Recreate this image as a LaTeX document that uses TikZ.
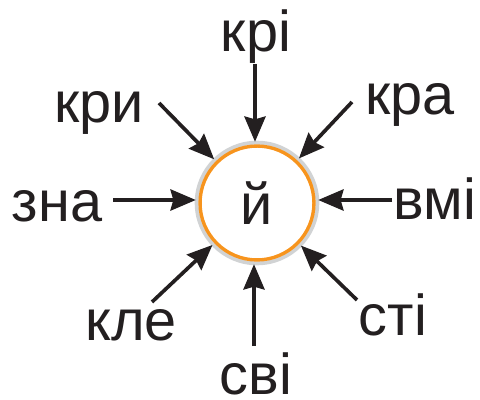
\documentclass[tikz,border=0pt]{standalone}
\usepackage{fontspec}
\setmainfont{Liberation Sans}
\usetikzlibrary{arrows.meta}
\definecolor{ink}{HTML}{231F20}
\definecolor{ringorange}{HTML}{F7941D}
\definecolor{ringgray}{HTML}{D1D3D4}
\tikzset{
  word/.style={font=\fontsize{41}{48}\selectfont, text=ink, anchor=base, inner sep=0pt},
  ring/.style={circle, draw=ringorange, line width=2.4pt, minimum size=81pt, inner sep=0pt, outer sep=3pt, font=\fontsize{41}{48}\selectfont, text=ink},
  halo/.style={draw=ringgray, line width=2.8pt},
  arr/.style={draw=ink, line width=2.6pt, -{Stealth[length=18pt,width=15pt,inset=2pt]}}
}
\begin{document}
\begin{tikzpicture}[x=0.025cm,y=-0.025cm]
        \useasboundingbox (0,0) rectangle (480,400);
        \coordinate (O) at (257,203);
        \draw[halo] (O) circle[radius=42.9pt];
        \node[ring] (c) at (O) {\raisebox{-0.2ex}{й}};
        % words
        \node[word] (kri) at (256,52) {крі};
        \node[word] (kry) at (99,123) {кри};
        \node[word] (kra) at (410,115) {кра};
        \node[word] (zna) at (57,222) {зна};
        \node[word] (vmi) at (435,220) {вмі};
        \node[word] (kle) at (131,340) {кле};
        \node[word] (sti) at (393,335) {сті};
        \node[word,text depth=0pt] (svi) at (256,394) {сві};
        % arrow starts
        \coordinate (A) at (255,64);
        \coordinate (B) at (159,103);
        \coordinate (C) at (352,102);
        \coordinate (D) at (113,200);
        \coordinate (E) at (392,200);
        \coordinate (F) at (152,302);
        \coordinate (G) at (254,346);
        \coordinate (H) at (357,300);
        \draw[arr] (A) -- (A |- c.north);
        \draw[arr] (B) -- (c);
        \draw[arr] (C) -- (c);
        \draw[arr] (D) -- (D -| c.west);
        \draw[arr] (E) -- (E -| c.east);
        \draw[arr] (F) -- (c);
        \draw[arr] (G) -- (G |- c.south);
        \draw[arr] (H) -- (c);
    \end{tikzpicture}
\end{document}
